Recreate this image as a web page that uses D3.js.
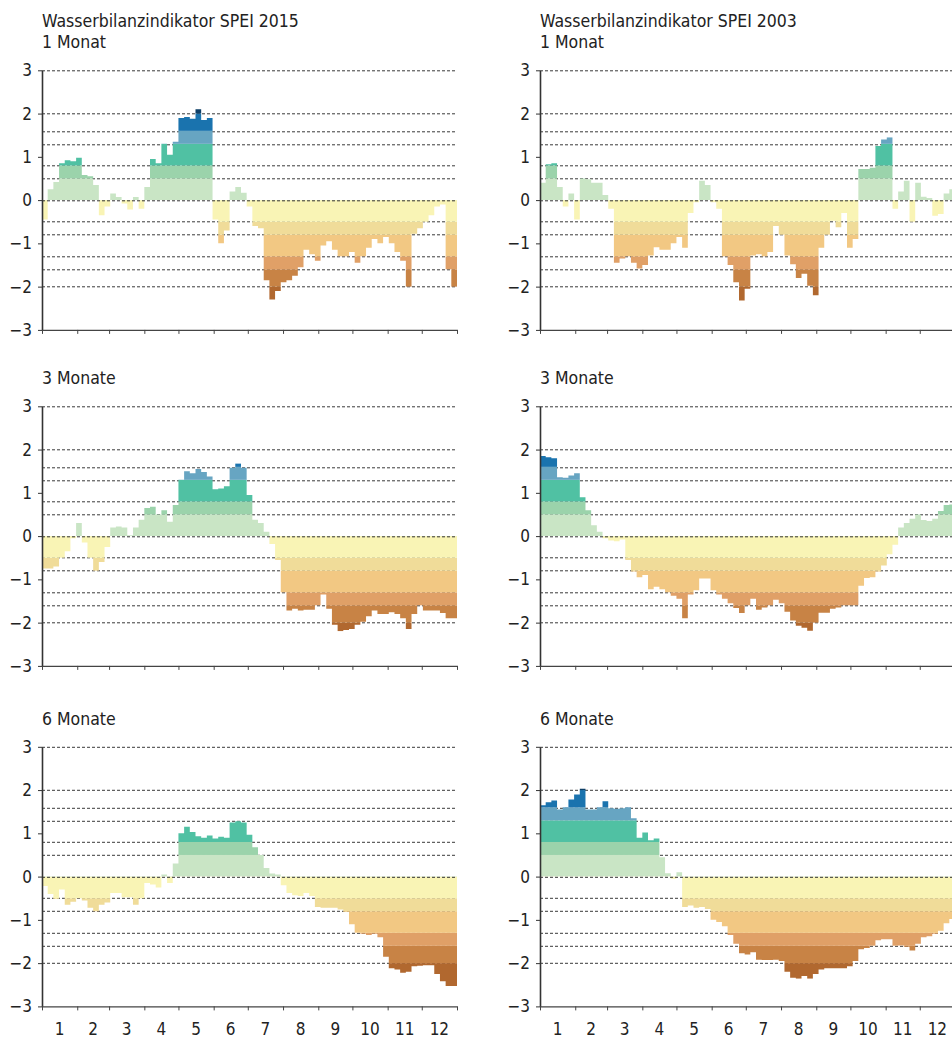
<!DOCTYPE html>
<html>
<head>
<meta charset="utf-8">
<script src="https://cdnjs.cloudflare.com/ajax/libs/d3/7.8.5/d3.min.js"></script>
<style>
  body { margin: 0; background: #fff; }
  svg text { font-family: "Liberation Sans Narrow", "DejaVu Sans Condensed", "Arial Narrow", sans-serif; fill: #222; }
</style>
</head>
<body>
<div id="chart"></div>
<script>
// month labels and the day each month starts (non-leap year)
var months = ["1", "2", "3", "4", "5", "6", "7", "8", "9", "10", "11", "12"];
var monthStarts = [0, 31, 59, 90, 120, 151, 181, 212, 243, 273, 304, 334, 365];

// SPEI values, one value per 5 days
var stepDays = 5;

var spei2015_1 = [
  -0.45, 0.25, 0.42, 0.85, 0.92, 0.9, 0.98, 0.58, 0.55, 0.35,
  -0.35, -0.15, 0.15, 0.07, -0.08, -0.22, 0.07, -0.2, 0.3, 0.95,
  0.85, 1.3, 1.05, 1.35, 1.9, 1.92, 1.88, 2.1, 1.85, 1.9,
  -0.45, -1.0, -0.7, 0.2, 0.3, 0.17, -0.15, -0.6, -0.65, -1.85,
  -2.3, -2.1, -1.9, -1.85, -1.75, -1.55, -1.15, -1.25, -1.4, -1.05,
  -0.95, -1.15, -1.3, -1.3, -1.2, -1.45, -1.3, -1.1, -0.9, -1.0,
  -0.85, -1.0, -1.2, -1.4, -2.0, -0.78, -0.65, -0.5, -0.35, -0.15,
  -0.1, -1.6, -2.0];

var spei2015_3 = [
  -0.75, -0.75, -0.7, -0.5, -0.35, -0.05, 0.3, -0.15, -0.5, -0.8,
  -0.6, -0.25, 0.2, 0.22, 0.2, 0.02, 0.2, 0.38, 0.65, 0.68,
  0.5, 0.6, 0.33, 0.72, 1.3, 1.5, 1.45, 1.55, 1.48, 1.38,
  1.08, 1.1, 1.15, 1.58, 1.68, 1.58, 0.95, 0.38, 0.3, 0.1,
  -0.18, -0.55, -1.3, -1.72, -1.68, -1.72, -1.7, -1.7, -1.6, -1.35,
  -1.68, -2.05, -2.2, -2.17, -2.15, -2.05, -1.98, -1.85, -1.72, -1.8,
  -1.8, -1.76, -1.8, -1.9, -2.15, -1.8, -1.6, -1.72, -1.72, -1.72,
  -1.78, -1.9, -1.9];

var spei2015_6 = [
  -0.22, -0.4, -0.52, -0.3, -0.65, -0.58, -0.5, -0.55, -0.72, -0.8,
  -0.65, -0.6, -0.38, -0.38, -0.48, -0.48, -0.65, -0.5, -0.15, -0.18,
  -0.25, 0.05, -0.15, 0.3, 1.0, 1.15, 1.03, 0.93, 0.9, 0.95,
  0.88, 0.92, 0.9, 1.25, 1.28, 1.25, 0.97, 0.68, 0.5, 0.2,
  0.07, 0.05, -0.2, -0.38, -0.43, -0.45, -0.38, -0.45, -0.7, -0.72,
  -0.72, -0.72, -0.76, -0.82, -1.1, -1.3, -1.32, -1.35, -1.32, -1.4,
  -1.85, -2.12, -2.15, -2.22, -2.2, -2.07, -2.06, -2.05, -2.05, -2.25,
  -2.42, -2.53, -2.53];

var spei2003_1 = [
  0.4, 0.83, 0.85, 0.3, -0.15, 0.15, -0.45, 0.5, 0.48, 0.4,
  0.4, 0.12, -0.2, -1.45, -1.35, -1.3, -1.45, -1.58, -1.5, -1.28,
  -1.09, -1.15, -1.15, -1.0, -0.85, -1.1, -0.3, -0.05, 0.45, 0.35,
  -0.05, -0.2, -1.3, -1.5, -1.9, -2.32, -2.05, -1.28, -1.25, -1.3,
  -1.2, -0.6, -0.8, -1.28, -1.48, -1.8, -1.7, -1.98, -2.2, -1.1,
  -0.8, -0.48, -0.63, -0.3, -1.1, -0.9, 0.72, 0.72, 0.75, 1.25,
  1.4, 1.45, -0.2, 0.2, 0.45, -0.5, 0.4, 0.08, 0.05, -0.36,
  -0.32, 0.15, 0.25];

var spei2003_3 = [
  1.85, 1.82, 1.8, 1.36, 1.35, 1.4, 1.45, 0.9, 0.6, 0.25,
  0.1, -0.05, -0.1, -0.12, -0.08, -0.55, -0.82, -0.95, -0.9, -1.23,
  -1.17, -1.23, -1.3, -1.38, -1.45, -1.9, -1.35, -1.25, -0.98, -0.98,
  -1.25, -1.35, -1.45, -1.55, -1.66, -1.78, -1.6, -1.45, -1.7, -1.65,
  -1.6, -1.47, -1.55, -1.75, -1.95, -2.07, -2.12, -2.19, -2.0, -1.77,
  -1.77, -1.68, -1.65, -1.6, -1.6, -1.6, -1.15, -0.97, -0.95, -0.82,
  -0.68, -0.42, -0.2, 0.2, 0.3, 0.4, 0.5, 0.37, 0.35, 0.4,
  0.58, 0.72, 0.73];

var spei2003_6 = [
  1.65, 1.72, 1.76, 1.55, 1.6, 1.78, 1.9, 2.03, 1.55, 1.55,
  1.6, 1.74, 1.58, 1.57, 1.58, 1.6, 1.35, 0.9, 1.02, 0.84,
  0.88, 0.45, 0.08, -0.05, 0.1, -0.7, -0.67, -0.72, -0.7, -0.75,
  -1.0, -1.05, -1.15, -1.35, -1.55, -1.77, -1.8, -1.75, -1.92, -1.93,
  -1.93, -1.92, -1.95, -2.2, -2.34, -2.36, -2.3, -2.36, -2.25, -2.15,
  -2.12, -2.12, -2.12, -2.12, -2.07, -1.95, -1.68, -1.65, -1.6, -1.47,
  -1.45, -1.45, -1.6, -1.59, -1.62, -1.71, -1.55, -1.4, -1.38, -1.32,
  -1.25, -1.08, -0.98];

// class limits of the colour bands and the dashed grid
var bandBreaks = [-3, -2, -1.6, -1.3, -0.8, -0.5, 0, 0.5, 0.8, 1.3, 1.6, 2, 3];
var bandColors = ["#b1682f", "#c88345", "#e0a067", "#f2c883", "#f0dc99", "#f9f4b5",
                  "#c9e5c5", "#9bd3ab", "#50c1a3", "#67a5c2", "#1a73ae", "#0d3e66"];
var gridValues = [3, 2, 1.6, 1.3, 0.8, 0.5, -0.5, -0.8, -1.3, -1.6, -2];
var yTicks = [-3, -2, -1, 0, 1, 2, 3];

var panels = [
  {col: 0, row: 0, data: spei2015_1, title: ["Wasserbilanzindikator SPEI 2015", "1 Monat"]},
  {col: 0, row: 1, data: spei2015_3, title: ["3 Monate"]},
  {col: 0, row: 2, data: spei2015_6, title: ["6 Monate"]},
  {col: 1, row: 0, data: spei2003_1, title: ["Wasserbilanzindikator SPEI 2003", "1 Monat"]},
  {col: 1, row: 1, data: spei2003_3, title: ["3 Monate"]},
  {col: 1, row: 2, data: spei2003_6, title: ["6 Monate"]}
];

var width = 952,
    height = 1039,
    panelWidth = 415,
    panelHeight = 259.6,
    colLeft = [42, 540],
    rowTop = [70.3, 406.3, 746.8];

var bands = bandColors.map(function(c, i) {
  return {lo: bandBreaks[i], hi: bandBreaks[i + 1], color: c};
});

var svg = d3.select("#chart")
  .append("svg")
    .attr("width", width)
    .attr("height", height)
    .style("display", "block");

svg.append("rect")
    .attr("width", width)
    .attr("height", height)
    .attr("fill", "#fff");

panels.forEach(function(p, k) {
  var xScale = d3.scaleLinear().domain([0, 365]).range([0, panelWidth]),
      yScale = d3.scaleLinear().domain([-3, 3]).range([panelHeight, 0]);

  var g = svg.append("g")
      .attr("transform", "translate(" + colLeft[p.col] + "," + rowTop[p.row] + ")");

  // dashed grid behind the bands
  g.selectAll(".grid")
      .data(gridValues)
    .enter().append("line")
      .attr("class", "grid")
      .attr("x1", 0)
      .attr("x2", panelWidth)
      .attr("y1", function(d) { return Math.round(yScale(d)) + 0.5; })
      .attr("y2", function(d) { return Math.round(yScale(d)) + 0.5; })
      .attr("stroke", "#3a3a3a")
      .attr("stroke-width", 1)
      .attr("stroke-dasharray", "3,2");

  // step area, used as clip for the coloured bands
  var pts = p.data.map(function(v, i) { return {day: i * stepDays, value: v}; });
  pts.push({day: 365, value: p.data[p.data.length - 1]});

  var area = d3.area()
      .curve(d3.curveStepAfter)
      .x(function(d) { return xScale(d.day); })
      .y0(yScale(0))
      .y1(function(d) { return yScale(d.value); });

  var clipId = "clip" + k;
  g.append("clipPath")
      .attr("id", clipId)
    .append("path")
      .datum(pts)
      .attr("d", area);

  g.append("g")
      .attr("clip-path", "url(#" + clipId + ")")
    .selectAll("rect")
      .data(bands)
    .enter().append("rect")
      .attr("x", 0)
      .attr("width", panelWidth)
      .attr("y", function(d) { return yScale(d.hi); })
      .attr("height", function(d) { return yScale(d.lo) - yScale(d.hi); })
      .attr("fill", function(d) { return d.color; });

  // zero line sits on top
  g.append("line")
      .attr("x1", 0)
      .attr("x2", panelWidth)
      .attr("y1", Math.round(yScale(0)) + 0.5)
      .attr("y2", Math.round(yScale(0)) + 0.5)
      .attr("stroke", "#333")
      .attr("stroke-dasharray", "3,2");

  // y axis
  var yAxis = g.append("g")
      .call(d3.axisLeft(yScale)
        .tickValues(yTicks)
        .tickSize(4)
        .tickSizeOuter(0)
        .tickPadding(6)
        .tickFormat(d3.format("d")));
  yAxis.select(".domain").attr("stroke", "#333").attr("stroke-width", 1.6);
  yAxis.selectAll(".tick line").attr("stroke", "#333");
  yAxis.selectAll("text")
      .attr("font-size", 17)
      .attr("font-family", null);

  // x axis, ticks at month starts
  var xAxis = g.append("g")
      .attr("transform", "translate(0," + panelHeight + ")")
      .call(d3.axisBottom(xScale)
        .tickValues(monthStarts)
        .tickSize(4)
        .tickSizeOuter(0)
        .tickFormat(""));
  xAxis.select(".domain").attr("stroke", "#444").attr("stroke-width", 1.4);
  xAxis.selectAll(".tick line").attr("stroke", "#444");

  // month numbers below the last row
  if (p.row === 2) {
    g.selectAll(".month")
        .data(months)
      .enter().append("text")
        .attr("class", "month")
        .attr("x", function(d, i) { return xScale((monthStarts[i] + monthStarts[i + 1]) / 2); })
        .attr("y", panelHeight + 28.6)
        .attr("text-anchor", "middle")
        .attr("font-size", 17)
        .text(function(d) { return d; });
  }

  // headings
  p.title.forEach(function(t, i, arr) {
    g.append("text")
        .attr("x", 0)
        .attr("y", -22 - (arr.length - 1 - i) * 21.6)
        .attr("font-size", 17.5)
        .text(t);
  });
});
</script>
</body>
</html>
